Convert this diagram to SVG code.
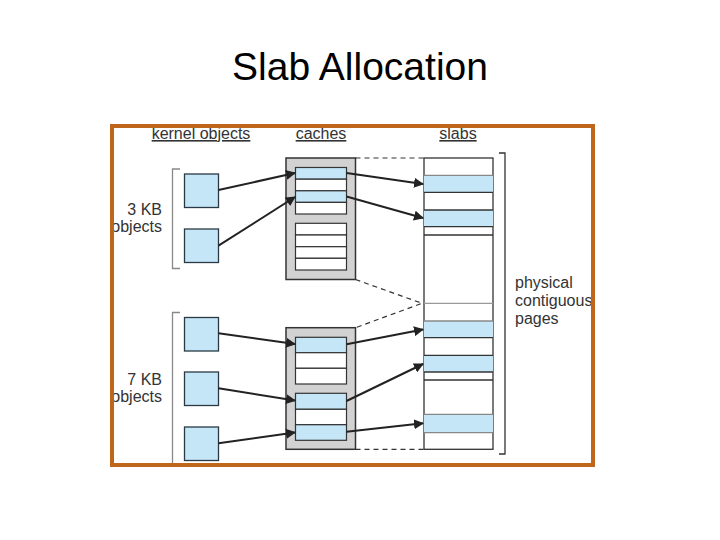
<svg xmlns="http://www.w3.org/2000/svg" width="720" height="540" viewBox="0 0 720 540">
<defs>
<style>
.lbl{font-family:"Liberation Sans",Arial,sans-serif;font-size:16px;fill:#333}
.hdr{font-family:"Liberation Sans",Arial,sans-serif;font-size:16px;fill:#333;text-decoration:underline}
.obj{fill:#c5e6f7;stroke:#2a3a44;stroke-width:1.3}
.cache{fill:#d2d2d2;stroke:#333;stroke-width:1.5}
.slot{fill:#fff;stroke:#333;stroke-width:1.2}
.bslot{fill:#c5e6f7;stroke:#333;stroke-width:1.2}
.arr{stroke:#222;stroke-width:2;fill:none;marker-end:url(#ah)}
.dash{stroke:#333;stroke-width:1.2;stroke-dasharray:5 4;fill:none}
.brk{stroke:#888;stroke-width:1.3;fill:none}
</style>
<marker id="ah" viewBox="0 0 10 10" refX="9" refY="5" markerWidth="5" markerHeight="5" orient="auto" markerUnits="strokeWidth">
<path d="M0,0 L10,5 L0,10 z" fill="#222"/>
</marker>
</defs>
<rect width="720" height="540" fill="#fff"/>
<text x="360" y="80" text-anchor="middle" font-family="'Liberation Sans',Arial,sans-serif" font-size="39" fill="#000">Slab Allocation</text>

<g id="headers">
<text class="hdr" x="201" y="139" text-anchor="middle">kernel objects</text>
<text class="hdr" x="321" y="139" text-anchor="middle">caches</text>
<text class="hdr" x="458" y="139" text-anchor="middle">slabs</text>
</g>

<g id="label-3kb">
<path class="brk" d="M180,169 H172.5 V268.5 H180"/>
<text class="lbl" x="162" y="215" text-anchor="end">3 KB</text>
<text class="lbl" x="162" y="232" text-anchor="end">objects</text>
</g>
<g id="label-7kb">
<path class="brk" d="M180,312.5 H172.5 V466"/>
<text class="lbl" x="162" y="385" text-anchor="end">7 KB</text>
<text class="lbl" x="162" y="402" text-anchor="end">objects</text>
</g>

<g id="obj-3kb">
<rect class="obj" x="184.5" y="174" width="34" height="33.5"/>
<rect class="obj" x="184.5" y="229" width="34" height="33.5"/>
</g>
<g id="obj-7kb">
<rect class="obj" x="184.5" y="317.5" width="34" height="33.5"/>
<rect class="obj" x="184.5" y="372" width="34" height="33.5"/>
<rect class="obj" x="184.5" y="427" width="34" height="33.5"/>
</g>

<g id="cache1">
<rect class="cache" x="286" y="158" width="69.5" height="121.5"/>
<rect class="bslot" x="295.5" y="167.5" width="51" height="11.7"/>
<rect class="slot" x="295.5" y="179.2" width="51" height="11.6"/>
<rect class="bslot" x="295.5" y="190.8" width="51" height="11.6"/>
<rect class="slot" x="295.5" y="202.4" width="51" height="11.6"/>
<rect class="slot" x="295.5" y="223.3" width="51" height="11.7"/>
<rect class="slot" x="295.5" y="235" width="51" height="11.7"/>
<rect class="slot" x="295.5" y="246.7" width="51" height="11.6"/>
<rect class="slot" x="295.5" y="258.3" width="51" height="11.7"/>
</g>

<g id="cache2">
<rect class="cache" x="286" y="327.7" width="69.5" height="121.6"/>
<rect class="bslot" x="295.5" y="337.3" width="51" height="15.4"/>
<rect class="slot" x="295.5" y="352.7" width="51" height="15.6"/>
<rect class="slot" x="295.5" y="368.3" width="51" height="15.7"/>
<rect class="bslot" x="295.5" y="393.3" width="51" height="16"/>
<rect class="slot" x="295.5" y="409.3" width="51" height="15.4"/>
<rect class="bslot" x="295.5" y="424.7" width="51" height="15.6"/>
</g>

<g id="slabs">
<rect x="424" y="158" width="69" height="291.3" fill="#fff" stroke="#333" stroke-width="1.3"/>
<rect x="424" y="175.3" width="69" height="17" fill="#c5e6f7"/>
<rect x="424" y="210" width="69" height="16.7" fill="#c5e6f7"/>
<rect x="424" y="321" width="69" height="16.7" fill="#c5e6f7"/>
<rect x="424" y="355.3" width="69" height="16.7" fill="#c5e6f7"/>
<rect x="424" y="414.3" width="69" height="18.4" fill="#c5e6f7"/>
<g stroke-width="1.3">
<line x1="424" y1="175.3" x2="493" y2="175.3" stroke="#888"/>
<line x1="424" y1="192.3" x2="493" y2="192.3" stroke="#333"/>
<line x1="424" y1="210" x2="493" y2="210" stroke="#333"/>
<line x1="424" y1="226.7" x2="493" y2="226.7" stroke="#333"/>
<line x1="424" y1="235" x2="493" y2="235" stroke="#333"/>
<line x1="424" y1="303.3" x2="493" y2="303.3" stroke="#999"/>
<line x1="424" y1="321" x2="493" y2="321" stroke="#888"/>
<line x1="424" y1="337.7" x2="493" y2="337.7" stroke="#333"/>
<line x1="424" y1="355.3" x2="493" y2="355.3" stroke="#333"/>
<line x1="424" y1="372" x2="493" y2="372" stroke="#333"/>
<line x1="424" y1="380" x2="493" y2="380" stroke="#333"/>
<line x1="424" y1="414.3" x2="493" y2="414.3" stroke="#888"/>
<line x1="424" y1="432.7" x2="493" y2="432.7" stroke="#888"/>
</g>
<path d="M499,153 H505 V454 H499" fill="none" stroke="#333" stroke-width="1.3"/>
<text class="lbl" x="515" y="288">physical</text>
<text class="lbl" x="515" y="306">contiguous</text>
<text class="lbl" x="515" y="324">pages</text>
</g>

<g id="connectors">
<path class="dash" d="M355.5,158 H424"/>
<path class="dash" d="M355.5,279.5 L422,303.3 L355.5,327.7"/>
<path class="dash" d="M355.5,449.3 H424"/>
<path class="arr" d="M218.5,190 L295,173"/>
<path class="arr" d="M218.5,245.7 L295,197"/>
<path class="arr" d="M346.5,173 L423,184"/>
<path class="arr" d="M346.5,196.5 L423,218"/>
<path class="arr" d="M218.5,333.3 L295,344"/>
<path class="arr" d="M218.5,388.3 L295,400.5"/>
<path class="arr" d="M218.5,443.3 L295,432.5"/>
<path class="arr" d="M346.5,344.3 L423,329.5"/>
<path class="arr" d="M346.5,401 L423,364"/>
<path class="arr" d="M346.5,431.7 L423,423.3"/>
</g>

<rect id="frame" x="112" y="126" width="481" height="339" fill="none" stroke="#c0661a" stroke-width="4"/>
</svg>
